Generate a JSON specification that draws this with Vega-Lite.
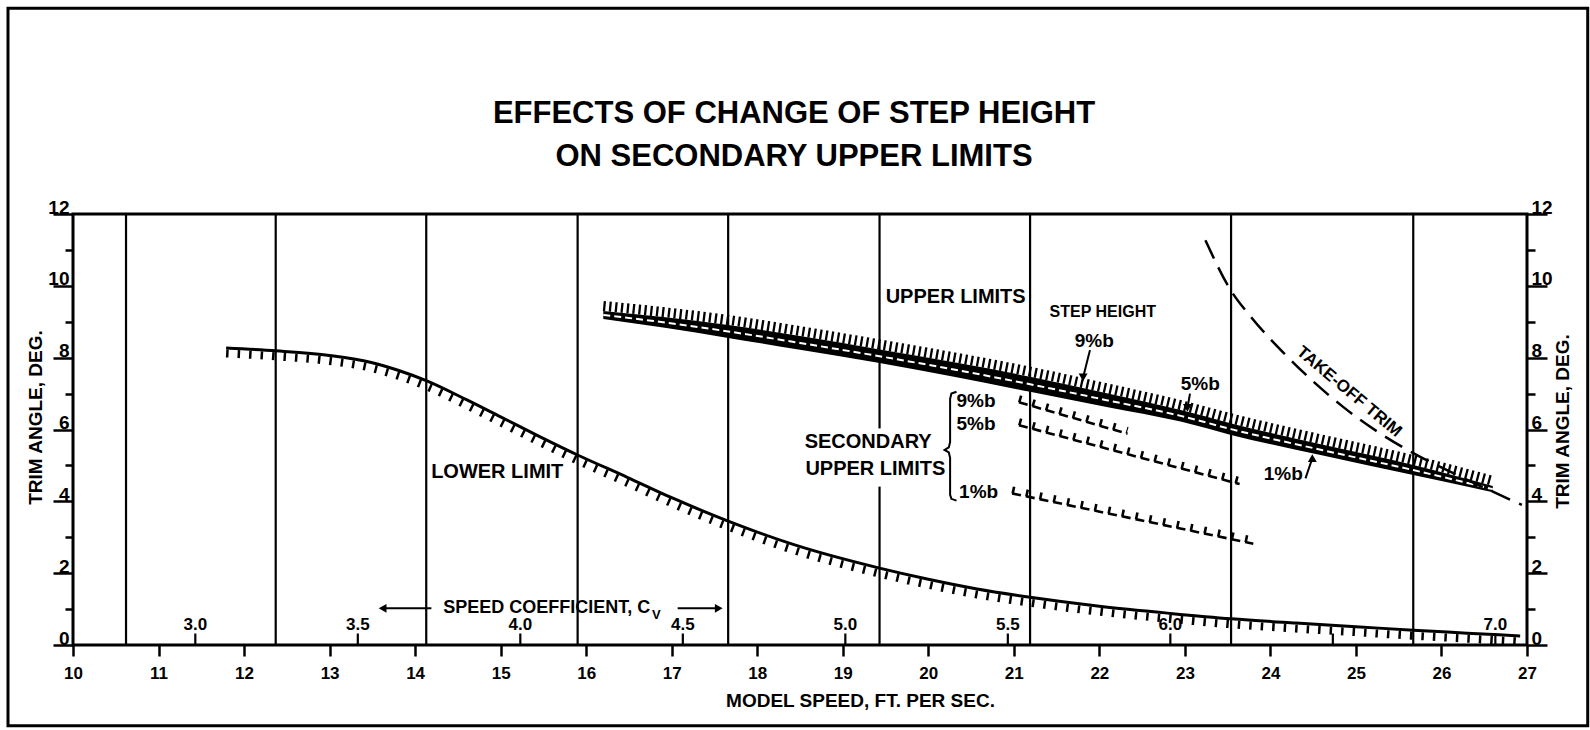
{
  "$schema": "https://vega.github.io/schema/vega-lite/v6.json",
  "width": 1454,
  "height": 431,
  "autosize": {"type": "none"},
  "padding": {"left": 73, "top": 214, "right": 63, "bottom": 85},
  "background": "white",
  "config": {
    "view": {"stroke": "black", "strokeWidth": 3},
    "font": "Liberation Sans",
    "text": {"font": "Liberation Sans", "fontWeight": "bold", "color": "black"}
  },
  "datasets": {
    "frame": [{"x": 9.24, "x2": 27.71, "y": -2.25, "y2": 17.73}],
    "titleLines": [
      {"x": 18.43, "y": 14.78, "t": "EFFECTS OF CHANGE OF STEP HEIGHT"},
      {"x": 18.43, "y": 13.59, "t": "ON SECONDARY UPPER LIMITS"}
    ],
    "grid": [
      {"x": 10.62, "y": 0, "y2": 12},
      {"x": 12.37, "y": 0, "y2": 12},
      {"x": 14.13, "y": 0, "y2": 12},
      {"x": 15.9, "y": 0, "y2": 12},
      {"x": 17.66, "y": 0, "y2": 12},
      {"x": 19.43, "y": 0, "y2": 4.41},
      {"x": 19.43, "y": 6.03, "y2": 12},
      {"x": 21.19, "y": 0, "y2": 12},
      {"x": 23.54, "y": 0, "y2": 12},
      {"x": 25.67, "y": 0, "y2": 12},
      {"x": 11.43, "y": 0, "y2": 0.32}, {"x": 13.33, "y": 0, "y2": 0.32},
      {"x": 15.23, "y": 0, "y2": 0.32}, {"x": 17.13, "y": 0, "y2": 0.32},
      {"x": 19.03, "y": 0, "y2": 0.32}, {"x": 20.93, "y": 0, "y2": 0.32},
      {"x": 22.83, "y": 0, "y2": 0.32}, {"x": 24.73, "y": 0, "y2": 0.32},
      {"x": 26.63, "y": 0, "y2": 0.32}
    ],
    "lower": [
      {"x": 11.79, "y": 8.27}, {"x": 12.37, "y": 8.19}, {"x": 13.0, "y": 8.06},
      {"x": 13.5, "y": 7.86}, {"x": 13.8, "y": 7.65}, {"x": 14.13, "y": 7.36},
      {"x": 14.6, "y": 6.83}, {"x": 15.0, "y": 6.35}, {"x": 15.45, "y": 5.81},
      {"x": 15.9, "y": 5.29}, {"x": 16.48, "y": 4.67}, {"x": 17.0, "y": 4.1},
      {"x": 17.66, "y": 3.45}, {"x": 18.42, "y": 2.8}, {"x": 19.43, "y": 2.14},
      {"x": 20.0, "y": 1.83}, {"x": 20.57, "y": 1.56}, {"x": 21.19, "y": 1.33},
      {"x": 22.0, "y": 1.08}, {"x": 22.83, "y": 0.88}, {"x": 23.54, "y": 0.73},
      {"x": 24.3, "y": 0.61}, {"x": 25.0, "y": 0.51}, {"x": 25.67, "y": 0.41},
      {"x": 26.3, "y": 0.33}, {"x": 26.92, "y": 0.25}
    ],
    "band": [
      {"x": 16.2, "top": 9.3, "mid": 9.19, "bot": 9.08},
      {"x": 16.9, "top": 9.13, "mid": 8.985, "bot": 8.84},
      {"x": 17.66, "top": 8.91, "mid": 8.73, "bot": 8.55},
      {"x": 18.5, "top": 8.6, "mid": 8.41, "bot": 8.22},
      {"x": 19.43, "top": 8.23, "mid": 8.04, "bot": 7.85},
      {"x": 20.3, "top": 7.87, "mid": 7.67, "bot": 7.47},
      {"x": 21.19, "top": 7.47, "mid": 7.26, "bot": 7.05},
      {"x": 22.1, "top": 7.0, "mid": 6.81, "bot": 6.62},
      {"x": 22.95, "top": 6.54, "mid": 6.38, "bot": 6.22},
      {"x": 23.54, "top": 6.17, "mid": 6.01, "bot": 5.85},
      {"x": 24.6, "top": 5.58, "mid": 5.43, "bot": 5.28},
      {"x": 25.67, "top": 5.01, "mid": 4.87, "bot": 4.73},
      {"x": 26.6, "top": 4.43, "mid": 4.34, "bot": 4.25}
    ],
    "takeoff": [
      {"x": 23.24, "y": 11.27}, {"x": 23.53, "y": 9.9}, {"x": 23.77, "y": 9.14},
      {"x": 24.16, "y": 8.12}, {"x": 24.85, "y": 6.63}, {"x": 25.67, "y": 5.34},
      {"x": 26.1, "y": 4.83}, {"x": 26.94, "y": 3.9}
    ],
    "secondary": [
      {"s": "9%b", "x": 21.06, "y": 6.76}, {"s": "9%b", "x": 22.33, "y": 5.88},
      {"s": "5%b", "x": 21.06, "y": 6.12}, {"s": "5%b", "x": 23.64, "y": 4.48},
      {"s": "1%b", "x": 20.98, "y": 4.22}, {"s": "1%b", "x": 23.8, "y": 2.82}
    ],
    "arrows": [
      {"x": 14.19, "y": 1.02, "x2": 13.62, "y2": 1.02},
      {"x": 17.07, "y": 1.02, "x2": 17.55, "y2": 1.02},
      {"x": 21.89, "y": 8.21, "x2": 21.81, "y2": 7.45},
      {"x": 23.06, "y": 7.0, "x2": 23.03, "y2": 6.6},
      {"x": 24.41, "y": 4.64, "x2": 24.49, "y2": 5.2}
    ],
    "heads": [
      {"x": 13.62, "y": 1.02, "dir": "left"},
      {"x": 17.55, "y": 1.02, "dir": "right"},
      {"x": 21.81, "y": 7.45, "dir": "down"},
      {"x": 23.03, "y": 6.6, "dir": "down"},
      {"x": 24.49, "y": 5.2, "dir": "up"}
    ],
    "brace": [
      {"i": 1, "x": 20.33, "y": 7.05}, {"i": 2, "x": 20.27, "y": 7.0},
      {"i": 3, "x": 20.255, "y": 6.85}, {"i": 4, "x": 20.255, "y": 5.65},
      {"i": 5, "x": 20.24, "y": 5.5}, {"i": 6, "x": 20.19, "y": 5.43},
      {"i": 7, "x": 20.24, "y": 5.36}, {"i": 8, "x": 20.255, "y": 5.21},
      {"i": 9, "x": 20.255, "y": 4.18}, {"i": 10, "x": 20.27, "y": 4.07},
      {"i": 11, "x": 20.33, "y": 4.02}
    ],
    "cv": [
      {"x": 11.43, "y": 0.55, "c": "3.0"}, {"x": 13.33, "y": 0.55, "c": "3.5"},
      {"x": 15.23, "y": 0.55, "c": "4.0"}, {"x": 17.13, "y": 0.55, "c": "4.5"},
      {"x": 19.03, "y": 0.55, "c": "5.0"}, {"x": 20.93, "y": 0.55, "c": "5.5"},
      {"x": 22.83, "y": 0.55, "c": "6.0"}, {"x": 26.63, "y": 0.55, "c": "7.0"}
    ],
    "bigLabels": [
      {"x": 20.32, "y": 9.69, "t": "UPPER LIMITS"},
      {"x": 14.96, "y": 4.83, "t": "LOWER LIMIT"}
    ],
    "rightLabels": [
      {"x": 20.04, "y": 5.66, "t": "SECONDARY"},
      {"x": 20.2, "y": 4.9, "t": "UPPER LIMITS"}
    ],
    "pctCenter": [
      {"x": 21.94, "y": 8.47, "t": "9%b"},
      {"x": 23.18, "y": 7.28, "t": "5%b"},
      {"x": 24.15, "y": 4.77, "t": "1%b"}
    ],
    "pctLeft": [
      {"x": 20.33, "y": 6.8, "t": "9%b"},
      {"x": 20.33, "y": 6.16, "t": "5%b"},
      {"x": 20.36, "y": 4.25, "t": "1%b"}
    ],
    "step": [{"x": 22.04, "y": 9.26, "t": "STEP HEIGHT"}],
    "speedC": [{"x": 16.75, "y": 1.03, "t": "SPEED COEFFICIENT, C"}],
    "speedV": [{"x": 16.77, "y": 0.84, "t": "V"}],
    "takeoffLabel": [{"x": 24.92, "y": 7.05, "t": "TAKE-OFF TRIM"}]
  },
  "encoding": {
    "x": {"field": "x", "type": "quantitative", "scale": {"domain": [10, 27], "nice": false, "zero": false}, "axis": null},
    "y": {"field": "y", "type": "quantitative", "scale": {"domain": [0, 12], "nice": false, "zero": false}, "axis": null}
  },
  "layer": [
    {
      "data": {"name": "frame"},
      "mark": {"type": "rect", "fill": null, "stroke": "black", "strokeWidth": 3},
      "encoding": {"x2": {"field": "x2"}, "y2": {"field": "y2"}}
    },
    {
      "data": {"name": "titleLines"},
      "mark": {"type": "text", "fontSize": 31, "align": "center", "baseline": "middle"},
      "encoding": {"text": {"field": "t"}}
    },
    {
      "data": {"name": "grid"},
      "mark": {"type": "rule", "stroke": "black", "strokeWidth": 2.2},
      "encoding": {
        "x": {
          "field": "x", "type": "quantitative",
          "scale": {"domain": [10, 27], "nice": false, "zero": false},
          "axis": {
            "orient": "bottom",
            "values": [10, 11, 12, 13, 14, 15, 16, 17, 18, 19, 20, 21, 22, 23, 24, 25, 26, 27],
            "format": "d",
            "domain": false, "grid": false,
            "tickSize": 11, "tickWidth": 2.5, "tickColor": "black",
            "labelFont": "Liberation Sans", "labelFontSize": 17, "labelFontWeight": "bold", "labelColor": "black",
            "labelPadding": 9, "labelFlush": false, "labelOverlap": false,
            "title": "MODEL SPEED, FT. PER SEC.",
            "titleFont": "Liberation Sans", "titleFontSize": 19, "titleFontWeight": "bold", "titleColor": "black",
            "titleX": 787, "titleY": 55, "titleBaseline": "middle", "titleAlign": "center"
          }
        },
        "y": {
          "field": "y", "type": "quantitative",
          "scale": {"domain": [0, 12], "nice": false, "zero": false},
          "axis": {
            "orient": "left",
            "values": [0, 1, 2, 3, 4, 5, 6, 7, 8, 9, 10, 11, 12],
            "domain": false, "grid": false,
            "tickSize": {"condition": {"test": "datum.value % 2 === 1", "value": 8}, "value": 20},
            "tickWidth": 2.5, "tickColor": "black",
            "labelExpr": "datum.value % 2 === 1 ? '' : datum.label",
            "labelFont": "Liberation Sans", "labelFontSize": 19, "labelFontWeight": "bold", "labelColor": "black",
            "labelAlign": "right", "labelBaseline": "alphabetic", "labelOffset": -1,
            "labelPadding": -16, "labelOverlap": false, "labelFlush": false,
            "title": "TRIM ANGLE, DEG.",
            "titleFont": "Liberation Sans", "titleFontSize": 19, "titleFontWeight": "bold", "titleColor": "black",
            "titleAngle": 270, "titleX": -38, "titleY": 203, "titleAlign": "center", "titleBaseline": "middle"
          }
        },
        "y2": {"field": "y2"}
      }
    },
    {
      "data": {"name": "lower"},
      "mark": {"type": "line", "stroke": "black", "strokeWidth": 3, "interpolate": "monotone"},
      "encoding": {
        "y": {
          "field": "y", "type": "quantitative",
          "scale": {"domain": [0, 12], "nice": false, "zero": false},
          "axis": {
            "orient": "right",
            "values": [0, 1, 2, 3, 4, 5, 6, 7, 8, 9, 10, 11, 12],
            "domain": false, "grid": false,
            "tickSize": {"condition": {"test": "datum.value % 2 === 1", "value": 8}, "value": 20},
            "tickWidth": 2.5, "tickColor": "black",
            "labelExpr": "datum.value % 2 === 1 ? '' : datum.label",
            "labelFont": "Liberation Sans", "labelFontSize": 19, "labelFontWeight": "bold", "labelColor": "black",
            "labelAlign": "left", "labelBaseline": "alphabetic", "labelOffset": -1,
            "labelPadding": -16, "labelOverlap": false, "labelFlush": false,
            "title": "TRIM ANGLE, DEG.",
            "titleFont": "Liberation Sans", "titleFontSize": 19, "titleFontWeight": "bold", "titleColor": "black",
            "titleAngle": 270, "titleX": 35, "titleY": 207, "titleAlign": "center", "titleBaseline": "middle"
          }
        }
      }
    },
    {
      "data": {"name": "lower"},
      "mark": {"type": "line", "stroke": "black", "strokeWidth": 8, "strokeDash": [2.5, 9], "yOffset": 5.5, "interpolate": "monotone"},
      "encoding": {}
    },
    {
      "data": {"name": "band"},
      "mark": {"type": "area", "fill": "black", "interpolate": "monotone"},
      "encoding": {"y": {"field": "bot", "type": "quantitative", "scale": {"domain": [0, 12], "nice": false, "zero": false}, "axis": null}, "y2": {"field": "top"}}
    },
    {
      "data": {"name": "band"},
      "mark": {"type": "line", "stroke": "white", "strokeWidth": 2, "strokeDash": [7, 4], "interpolate": "monotone"},
      "encoding": {"y": {"field": "mid", "type": "quantitative", "scale": {"domain": [0, 12], "nice": false, "zero": false}, "axis": null}}
    },
    {
      "data": {"name": "band"},
      "mark": {"type": "line", "stroke": "black", "strokeWidth": 10, "strokeDash": [2.3, 3.6], "yOffset": -5, "interpolate": "monotone"},
      "encoding": {"y": {"field": "top", "type": "quantitative", "scale": {"domain": [0, 12], "nice": false, "zero": false}, "axis": null}}
    },
    {
      "data": {"name": "takeoff"},
      "mark": {"type": "line", "stroke": "black", "strokeWidth": 2.5, "strokeDash": [20, 10], "interpolate": "monotone"},
      "encoding": {}
    },
    {
      "data": {"name": "secondary"},
      "mark": {"type": "line", "stroke": "black", "strokeWidth": 2.6, "strokeDash": [9, 5]},
      "encoding": {"detail": {"field": "s"}}
    },
    {
      "data": {"name": "secondary"},
      "mark": {"type": "line", "stroke": "black", "strokeWidth": 7, "strokeDash": [2.6, 11.4], "yOffset": -3.5},
      "encoding": {"detail": {"field": "s"}}
    },
    {
      "data": {"name": "arrows"},
      "mark": {"type": "rule", "stroke": "black", "strokeWidth": 2},
      "encoding": {"x2": {"field": "x2"}, "y2": {"field": "y2"}}
    },
    {
      "data": {"name": "heads"},
      "mark": {"type": "point", "filled": true, "color": "black", "size": 80, "opacity": 1},
      "encoding": {
        "shape": {"field": "dir", "type": "nominal", "scale": {"domain": ["left", "right", "down", "up"], "range": ["triangle-left", "triangle-right", "triangle-down", "triangle-up"]}, "legend": null}
      }
    },
    {
      "data": {"name": "brace"},
      "mark": {"type": "line", "stroke": "black", "strokeWidth": 2},
      "encoding": {"order": {"field": "i", "type": "quantitative"}}
    },
    {
      "data": {"name": "cv"},
      "mark": {"type": "text", "fontSize": 17, "align": "center", "baseline": "middle"},
      "encoding": {"text": {"field": "c"}}
    },
    {
      "data": {"name": "bigLabels"},
      "mark": {"type": "text", "fontSize": 20, "align": "center", "baseline": "middle"},
      "encoding": {"text": {"field": "t"}}
    },
    {
      "data": {"name": "rightLabels"},
      "mark": {"type": "text", "fontSize": 20, "align": "right", "baseline": "middle"},
      "encoding": {"text": {"field": "t"}}
    },
    {
      "data": {"name": "pctCenter"},
      "mark": {"type": "text", "fontSize": 19, "align": "center", "baseline": "middle"},
      "encoding": {"text": {"field": "t"}}
    },
    {
      "data": {"name": "pctLeft"},
      "mark": {"type": "text", "fontSize": 19, "align": "left", "baseline": "middle"},
      "encoding": {"text": {"field": "t"}}
    },
    {
      "data": {"name": "step"},
      "mark": {"type": "text", "fontSize": 16, "align": "center", "baseline": "middle"},
      "encoding": {"text": {"field": "t"}}
    },
    {
      "data": {"name": "speedC"},
      "mark": {"type": "text", "fontSize": 18, "align": "right", "baseline": "middle"},
      "encoding": {"text": {"field": "t"}}
    },
    {
      "data": {"name": "speedV"},
      "mark": {"type": "text", "fontSize": 13, "align": "left", "baseline": "middle"},
      "encoding": {"text": {"field": "t"}}
    },
    {
      "data": {"name": "takeoffLabel"},
      "mark": {"type": "text", "fontSize": 17, "align": "center", "baseline": "middle", "angle": 40},
      "encoding": {"text": {"field": "t"}}
    }
  ],
  "resolve": {"axis": {"x": "independent", "y": "independent"}}
}
